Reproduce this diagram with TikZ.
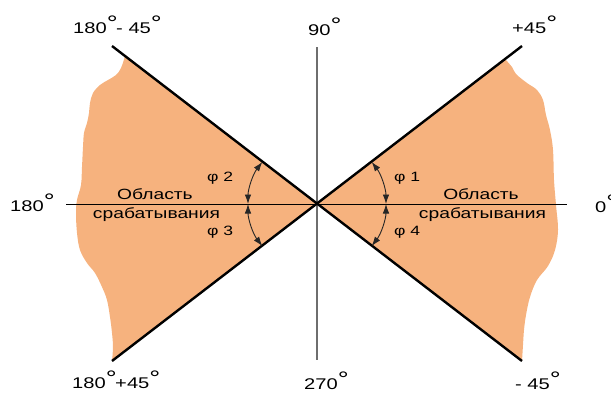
\documentclass[tikz,border=0pt]{standalone}
\usepackage{fontspec}
\setmainfont{Liberation Sans}[FakeStretch=1.3]
\usepackage{tikz}
\usetikzlibrary{arrows.meta}
\definecolor{zone}{RGB}{246,178,126}
\definecolor{axisgray}{RGB}{110,110,110}
\newcommand{\dg}{\raisebox{3pt}{\fontsize{21}{21}\selectfont °}}

\begin{document}
\begin{tikzpicture}[x=1pt,y=-1pt,
  lbl/.style={inner sep=0pt,anchor=base west,font=\fontsize{15.5}{18}\selectfont},
  zonetxt/.style={inner sep=0pt,anchor=base,font=\fontsize{14.8}{16}\selectfont},
  phi/.style={inner sep=0pt,anchor=base west,font=\fontsize{13.5}{15}\selectfont},
  angarc/.style={line width=0.9pt,color=black!85,{Latex[length=9.5pt,width=6.5pt]}-{Latex[length=9.5pt,width=6.5pt]}}]
\useasboundingbox (0,0) rectangle (611,392);
\coordinate (o) at (317,204);
\coordinate (ne) at (522,46);
\coordinate (se) at (522,361);
\coordinate (nw) at (112,46);
\coordinate (sw) at (112,361);
\coordinate (xl) at (66,204);
\coordinate (xr) at (567,204);
\coordinate (yt) at (317,47);
\coordinate (yb) at (317,360);
% zones
\fill[zone] (o) -- plot[smooth,tension=0.6] coordinates {(505,59) (512,67) (516,74) (527,83) (537,90) (543,100) (546,115) (550,130) (553,150) (554,180) (556,205) (558,230) (555,250) (548,266) (537,280) (530,297) (526,315) (524,330) (523,345) (522,361)} -- cycle;
\fill[zone] (o) -- plot[smooth,tension=0.6] coordinates {(125,56) (121,68) (116,75) (108,80) (100,85) (93,93) (90,103) (89,113) (87,123) (84,133) (83,147) (82,167) (81,185) (77,200) (76,213) (77,233) (80,250) (87,263) (95,273) (102,287) (107,300) (110,317) (112,333) (113,347) (112,361)} -- cycle;
% axes
\draw[line width=0.9pt] (xl) -- (xr);
\draw[line width=1.3pt,axisgray] (yt) -- (yb);
\draw[line width=2.4pt] (nw) -- (se);
\draw[line width=2.4pt] (sw) -- (ne);
% angles
\draw[angarc] ([shift={(-37.6:69)}]o) arc[start angle=-37.6,end angle=0,radius=69];
\draw[angarc] ([shift={(0:69)}]o) arc[start angle=0,end angle=37.6,radius=69];
\draw[angarc] ([shift={(217.6:69)}]o) arc[start angle=217.6,end angle=180,radius=69];
\draw[angarc] ([shift={(180:69)}]o) arc[start angle=180,end angle=142.4,radius=69];
\node[phi] (p1) at (394,181) {φ 1};
\node[phi] (p2) at (207,181) {φ 2};
\node[phi] (p3) at (207,235) {φ 3};
\node[phi] (p4) at (394,235) {φ 4};
% zone labels
\node[zonetxt] (zl1) at (155,199) {Область};
\node[zonetxt] (zl2) at (156.5,218) {срабатывания};
\node[zonetxt] (zr1) at (481,199) {Область};
\node[zonetxt] (zr2) at (482.5,218) {срабатывания};
% degree labels
\node[lbl] (tl) at (73,33) {180\dg\kern-1.5pt- 45\dg};
\node[lbl] (tc) at (308,35) {90\dg};
\node[lbl] (tr) at (512,33) {+45\dg};
\node[lbl] (ml) at (10,211) {180\dg};
\node[lbl] (mr) at (595,212) {0\dg};
\node[lbl] (bl) at (72,388) {180\dg\kern-1.5pt+45\dg};
\node[lbl] (bc) at (304,389) {270\dg};
\node[lbl] (br) at (515,389) {- 45\dg};
\end{tikzpicture}
\end{document}
